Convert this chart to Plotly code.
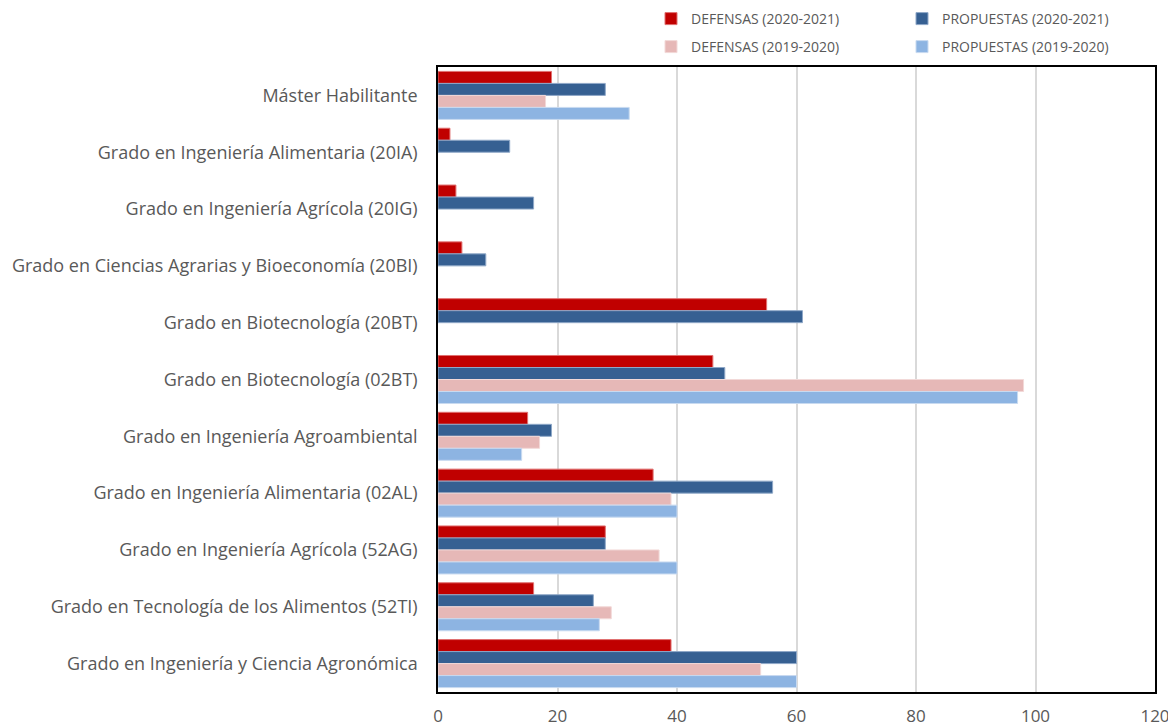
import plotly.graph_objects as go

categories = [
    "Máster Habilitante",
    "Grado en Ingeniería Alimentaria (20IA)",
    "Grado en Ingeniería Agrícola (20IG)",
    "Grado en Ciencias Agrarias y Bioeconomía (20BI)",
    "Grado en Biotecnología (20BT)",
    "Grado en Biotecnología (02BT)",
    "Grado en Ingeniería Agroambiental",
    "Grado en Ingeniería Alimentaria (02AL)",
    "Grado en Ingeniería Agrícola (52AG)",
    "Grado en Tecnología de los Alimentos (52TI)",
    "Grado en Ingeniería y Ciencia Agronómica",
]
defensas_2021 = [19, 2, 3, 4, 55, 46, 15, 36, 28, 16, 39]
propuestas_2021 = [28, 12, 16, 8, 61, 48, 19, 56, 28, 26, 60]
defensas_2020 = [18, None, None, None, None, 98, 17, 39, 37, 29, 54]
propuestas_2020 = [32, None, None, None, None, 97, 14, 40, 40, 27, 60]

series = [
    ("DEFENSAS (2020-2021)", defensas_2021, "#C00000", "#E07070", "legend"),
    ("PROPUESTAS (2020-2021)", propuestas_2021, "#366092", "#8FA8C8", "legend2"),
    ("DEFENSAS (2019-2020)", defensas_2020, "#E6B8B7", "#F2D9D8", "legend3"),
    ("PROPUESTAS (2019-2020)", propuestas_2020, "#8DB4E2", "#C8DAF0", "legend4"),
]

fig = go.Figure()
for name, vals, col, edge, lg in series:
    fig.add_trace(go.Bar(
        y=categories, x=vals, name=name, orientation="h",
        marker=dict(color=col, line=dict(color=edge, width=1)),
        legend=lg, showlegend=True,
    ))

# page body adds an 8px offset, so figure coordinates = screen - 8
W, H = 1176, 727
ML, MR, MT, MB = 430, 29, 59, 43
PW, PH = W - ML - MR, H - MT - MB


def px_x(x):
    return (x - ML) / PW


def px_y(y):
    return (H - MB - y) / PH


font_family = "Open Sans, Liberation Sans, Arial, sans-serif"
legend_common = dict(
    orientation="h", xanchor="left", yanchor="middle",
    font=dict(family=font_family, size=14, color="#595959"),
    itemwidth=30, bgcolor="rgba(0,0,0,0)",
)

fig.update_layout(
    width=W, height=H,
    margin=dict(l=ML, r=MR, t=MT, b=MB, autoexpand=False),
    showlegend=True,
    paper_bgcolor="white", plot_bgcolor="white",
    barmode="group", bargap=0.155, bargroupgap=0,
    font=dict(family=font_family, color="#595959"),
    legend=dict(x=px_x(643), y=px_y(11), **legend_common),
    legend2=dict(x=px_x(894), y=px_y(11), **legend_common),
    legend3=dict(x=px_x(643), y=px_y(39), **legend_common),
    legend4=dict(x=px_x(894), y=px_y(39), **legend_common),
    xaxis=dict(
        range=[0, 120], dtick=20, tick0=0,
        showgrid=True, gridcolor="#D9D9D9", gridwidth=1.5,
        showline=True, linecolor="black", linewidth=1.5, mirror=True,
        zeroline=False, ticks="", automargin=False,
        tickfont=dict(family=font_family, size=17, color="#595959"),
        ticklabelstandoff=8,
    ),
    yaxis=dict(
        categoryorder="array", categoryarray=categories,
        autorange="reversed", automargin=False,
        showline=True, linecolor="black", linewidth=1.5, mirror=True,
        showgrid=False, ticks="",
        tickfont=dict(family=font_family, size=18, color="#595959"),
        ticklabelstandoff=15,
    ),
)

fig.write_html("out.html")
